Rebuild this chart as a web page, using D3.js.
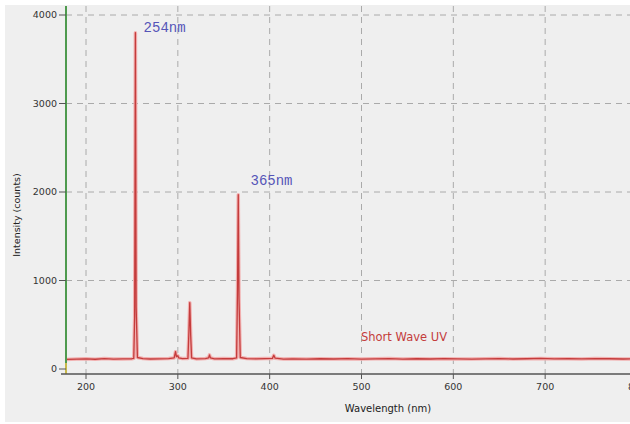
<!DOCTYPE html>
<html>
<head>
<meta charset="utf-8">
<script src="https://cdn.jsdelivr.net/npm/d3@7"></script>
<style>
  body { margin: 0; background: #fff; }
  svg { display: block; font-family: "DejaVu Sans", sans-serif; }
</style>
</head>
<body>
<div id="chart"></div>
<script>
// spectrum
var wavelengths = [178, 190, 200, 210, 220, 230, 240, 250, 252, 253, 253.8, 254.6, 256, 262, 270, 280, 290, 296, 297.5, 298.5, 300, 301, 305, 311, 312, 313, 314, 315, 320, 330, 333.5, 334.5, 335.5, 340, 350, 360, 364, 365, 365.8, 366.6, 368, 375, 385, 395, 403, 404.5, 406, 415, 425, 440, 455, 470, 485, 500, 515, 530, 545, 560, 575, 590, 605, 620, 635, 650, 665, 680, 695, 710, 725, 740, 755, 770, 785, 800];
var counts = [108, 112, 115, 110, 118, 112, 114, 116, 120, 600, 3800, 700, 130, 118, 113, 115, 118, 125, 195, 140, 150, 125, 118, 120, 400, 750, 380, 125, 114, 118, 125, 160, 125, 115, 118, 116, 125, 900, 1970, 800, 130, 118, 115, 118, 120, 155, 122, 112, 115, 112, 116, 113, 117, 112, 115, 118, 112, 116, 113, 117, 114, 112, 115, 118, 113, 116, 119, 115, 117, 114, 118, 116, 113, 115];

var xTicks = [200, 300, 400, 500, 600, 700, 800];
var yTicks = [0, 1000, 2000, 3000, 4000];

var peakLabels = ["254nm", "365nm"];
var peakAt = [[254, 3800], [365, 1970]];

var width = 630, height = 424;

var svg = d3.select("#chart").append("svg")
  .attr("width", width)
  .attr("height", height);

var x = d3.scaleLinear().domain([200, 800]).range([86, 637]);
var y = d3.scaleLinear().domain([0, 4000]).range([369, 15]);

var plotLeft = 66, plotTop = 6, plotBottom = 374;

svg.append("rect")
  .attr("x", 5).attr("y", 5)
  .attr("width", width - 5).attr("height", 417)
  .attr("fill", "#efefef");

// grid
svg.append("g").selectAll("line.vgrid")
  .data(xTicks)
  .enter().append("line")
  .attr("x1", d => x(d)).attr("x2", d => x(d))
  .attr("y1", plotTop).attr("y2", plotBottom)
  .attr("stroke", "#aaa")
  .attr("stroke-dasharray", "6,5");

svg.append("g").selectAll("line.hgrid")
  .data(yTicks.filter(d => d > 0))
  .enter().append("line")
  .attr("x1", plotLeft).attr("x2", width)
  .attr("y1", d => y(d)).attr("y2", d => y(d))
  .attr("stroke", "#aaa")
  .attr("stroke-dasharray", "6,5");

// spectrum
var pts = wavelengths.map((w, i) => [w, counts[i]]);
var line = d3.line().x(d => x(d[0])).y(d => y(d[1]));

svg.append("path")
  .datum(pts)
  .attr("d", line)
  .attr("fill", "none")
  .attr("stroke", "#f2b0b0")
  .attr("stroke-width", 3.5)
  .attr("stroke-linejoin", "round");

svg.append("path")
  .datum(pts)
  .attr("d", line)
  .attr("fill", "none")
  .attr("stroke", "#c43c3c")
  .attr("stroke-width", 1.3)
  .attr("stroke-linejoin", "round");

// y axis (green line)
svg.append("line")
  .attr("x1", plotLeft).attr("x2", plotLeft)
  .attr("y1", plotTop).attr("y2", plotBottom)
  .attr("stroke", "#4e9a4e")
  .attr("stroke-width", 2);

svg.append("line")
  .attr("x1", plotLeft).attr("x2", plotLeft)
  .attr("y1", 363).attr("y2", plotBottom)
  .attr("stroke", "#c8b84a")
  .attr("stroke-width", 2);

var yAxis = svg.append("g");
yAxis.selectAll("line")
  .data(yTicks)
  .enter().append("line")
  .attr("x1", 59).attr("x2", plotLeft)
  .attr("y1", d => y(d)).attr("y2", d => y(d))
  .attr("stroke", "#555");
yAxis.selectAll("text")
  .data(yTicks)
  .enter().append("text")
  .attr("x", 57)
  .attr("y", d => y(d))
  .attr("dy", "0.35em")
  .attr("text-anchor", "end")
  .attr("font-size", 9.5)
  .attr("fill", "#333")
  .text(d => d);

// x axis
svg.append("line")
  .attr("x1", 61).attr("x2", width)
  .attr("y1", plotBottom).attr("y2", plotBottom)
  .attr("stroke", "#555")
  .attr("stroke-width", 1.5);

var xAxis = svg.append("g");
xAxis.selectAll("line")
  .data(xTicks)
  .enter().append("line")
  .attr("x1", d => x(d)).attr("x2", d => x(d))
  .attr("y1", plotBottom).attr("y2", plotBottom + 5)
  .attr("stroke", "#555");
xAxis.selectAll("text")
  .data(xTicks)
  .enter().append("text")
  .attr("x", d => x(d))
  .attr("y", 387)
  .attr("dy", "0.35em")
  .attr("text-anchor", "middle")
  .attr("font-size", 9.5)
  .attr("fill", "#333")
  .text(d => d);

svg.append("text")
  .attr("x", 388).attr("y", 408)
  .attr("dy", "0.35em")
  .attr("text-anchor", "middle")
  .attr("font-size", 10)
  .attr("fill", "#222")
  .text("Wavelength (nm)");

svg.append("text")
  .attr("transform", "translate(17,215) rotate(-90)")
  .attr("dy", "0.35em")
  .attr("text-anchor", "middle")
  .attr("font-size", 9.5)
  .attr("fill", "#222")
  .text("Intensity (counts)");

// peak labels, each nudged to where the reference puts it
var labelNudge = [[8, -1], [13, -10]];
svg.selectAll("text.peak")
  .data(peakLabels)
  .enter().append("text")
  .attr("class", "peak")
  .attr("x", (d, i) => x(peakAt[i][0]) + labelNudge[i][0])
  .attr("y", (d, i) => y(peakAt[i][1]) + labelNudge[i][1])
  .attr("font-family", "Liberation Mono, monospace")
  .attr("font-size", 14)
  .attr("fill", "#5555b8")
  .text(d => d);

svg.append("text")
  .attr("x", 361).attr("y", 337)
  .attr("dy", "0.35em")
  .attr("font-size", 11.5)
  .attr("fill", "#c43c3c")
  .text("Short Wave UV");
</script>
</body>
</html>
